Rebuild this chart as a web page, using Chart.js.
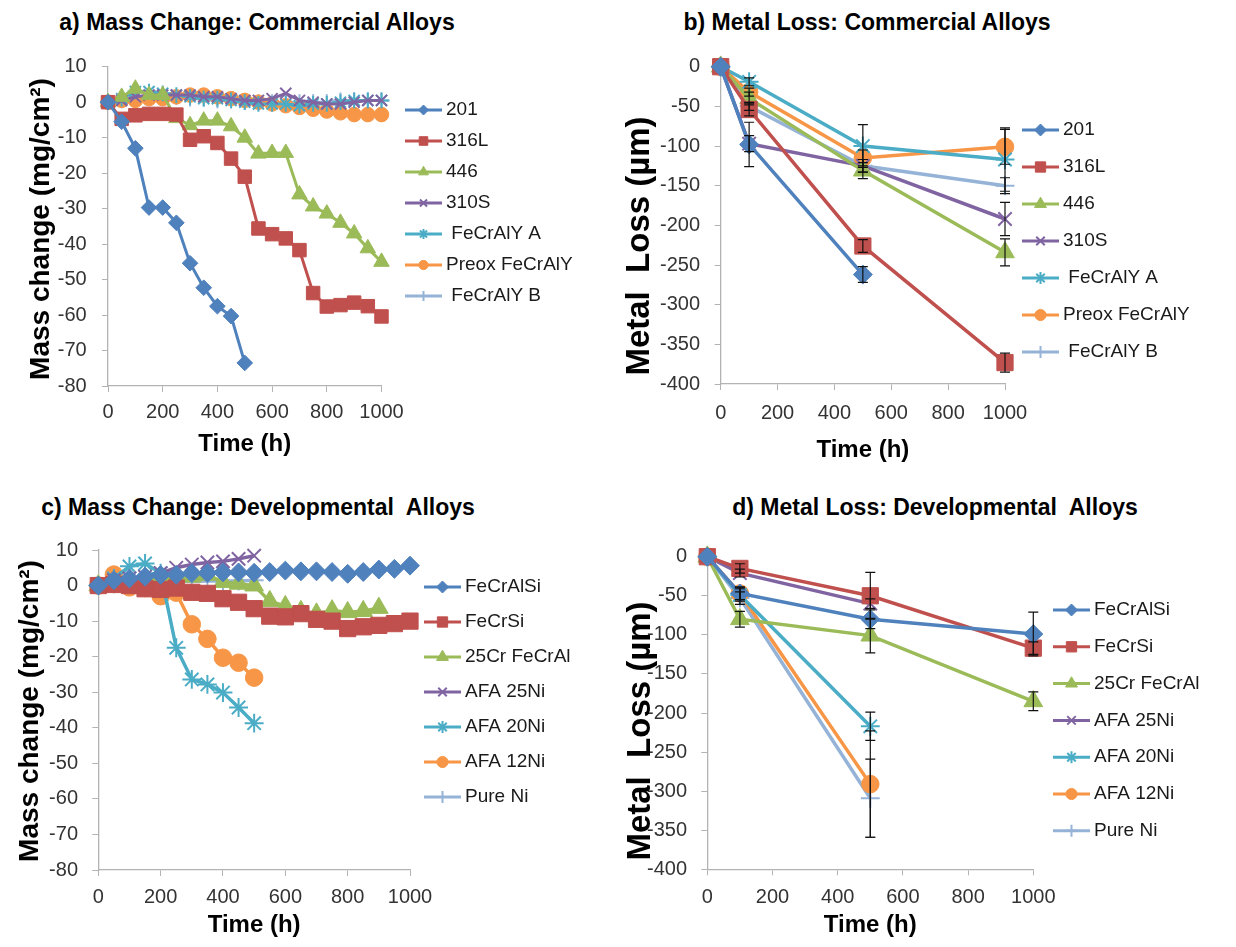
<!DOCTYPE html>
<html>
<head>
<meta charset="utf-8">
<script src="https://cdn.jsdelivr.net/npm/chart.js@4.4.0/dist/chart.umd.min.js"></script>
<style>
  body { margin: 0; background: #fff; width: 1236px; height: 947px; position: relative; overflow: hidden;
         font-family: Arial, "Liberation Sans", sans-serif; }
  canvas { position: absolute; }
  .title { position: absolute; font-weight: bold; font-size: 23px; line-height: 1; white-space: pre;
           transform: translateX(-50%); color: #000; }
</style>
</head>
<body>
<div class="title" style="left:257px; top:11px">a) Mass Change: Commercial Alloys</div>
<div class="title" style="left:867px; top:11px">b) Metal Loss: Commercial Alloys</div>
<div class="title" style="left:258px; top:496px">c) Mass Change: Developmental  Alloys</div>
<div class="title" style="left:935px; top:496px">d) Metal Loss: Developmental  Alloys</div>

<canvas id="chartA" width="618" height="470" style="left:0; top:0"></canvas>
<canvas id="chartB" width="618" height="470" style="left:618px; top:0"></canvas>
<canvas id="chartC" width="618" height="477" style="left:0; top:470px"></canvas>
<canvas id="chartD" width="618" height="477" style="left:618px; top:470px"></canvas>

<script>
// ---- data: a) mass change, commercial alloys (mg/cm2) ----
const timesMass = [0, 50, 100, 150, 200, 250, 300, 350, 400, 450, 500,
                   550, 600, 650, 700, 750, 800, 850, 900, 950, 1000];
const commercialNames = ['201', '316L', '446', '310S', ' FeCrAlY A', 'Preox FeCrAlY', ' FeCrAlY B'];
const mass201   = [0, -5.5, -13, -29.7, -29.7, -34, -45.4, -52.3, -57.5, -60.3, -73.5];
const mass316L  = [0, -4.7, -3.7, -3.3, -3.3, -3.5, -10.6, -9.6, -11.5, -15.9, -21,
                   -35.6, -37.2, -38.4, -41.7, -53.8, -57.6, -57.2, -56.5, -57.5, -60.4];
const mass446   = [0, 1.5, 3.8, 2, 2, -4.5, -6.5, -5.2, -5.2, -6.8, -10,
                   -14.5, -14.3, -14.3, -26, -29.4, -31.4, -34, -37, -41.2, -45];
const mass310S  = [0, 0.5, 1.5, 2, 2, 2, 2, 1.5, 1.5, 1, 0.5,
                   0.5, 1, 2.5, 0.5, 0, -0.5, -0.5, 0, 0.5, 0.5];
const massFeCrAlYA = [0, 1, 3, 3, 2.5, 2, 1.5, 1, 1, 0.5, 0,
                      -0.5, -0.5, -0.5, -1, -0.5, -0.5, 0, 0.5, 0.5, 0.5];
const massPreox = [0, 0.5, 0.5, 1, 1, 1.5, 2, 2, 1.5, 1, 0.5,
                   0, -0.5, -1, -1.5, -2, -2.5, -3, -3.5, -3.5, -3.5];
const massFeCrAlYB = [0, 0.5, 1, 1.5, 1.5, 1.5, 1, 1, 0.5, 0.5, 0,
                      0, 0, 0, 0, 0, 0, 0.5, 0.5, 0.5, 0.5];

// ---- data: b) metal loss, commercial alloys (um) ----
const timesLoss = [0, 100, 500, 1000];
const loss201   = [0, -98, -262];
const err201    = [0, 28, 10];
const loss316L  = [0, -54, -226, -373];
const err316L   = [0, 8, 8, 12];
const loss446   = [0, -40, -131, -234];
const err446    = [0, 8, 10, 17];
const loss310S  = [0, -97, -125, -192];
const err310S   = [0, 10, 8, 21];
const lossFeCrAlYA = [0, -19, -100, -117];
const errFeCrAlYA  = [0, 5, 27, 40];
const lossPreox = [0, -32, -115, -101];
const errPreox  = [0, 5, 10, 22];
const lossFeCrAlYB = [0, -50, -125, -150];
const errFeCrAlYB  = [0, 5, 8, 10];

// ---- data: c) mass change, developmental alloys (mg/cm2) ----
const devNames = ['FeCrAlSi', 'FeCrSi', '25Cr FeCrAl', 'AFA 25Ni', 'AFA 20Ni', 'AFA 12Ni', 'Pure Ni'];
const massFeCrAlSi = [0, 1.5, 2, 2.5, 3, 3, 3.5, 3.5, 3.7, 3.7, 3.6,
                      3.8, 4.2, 4, 4, 3.8, 3.3, 3.8, 4.5, 4.7, 5.6];
const massFeCrSi   = [0, 0.3, 0, -0.9, -1.1, -0.7, -1.9, -2.2, -3.7, -4.7, -6.5,
                      -8.6, -8.8, -7.9, -9.5, -10, -12.1, -11.6, -11.2, -10.7, -10];
const mass25Cr     = [0, 0.5, 1, 1.5, 2, 2.5, 2.5, 3, 1, 0.5, 0,
                      -4.4, -5.8, -7.2, -7.9, -7, -7.5, -7.2, -6.3];
const massAFA25Ni  = [0, 1.5, 2, 2.5, 3.5, 5, 5.9, 6.5, 6.8, 7.5, 8.4];
const massAFA20Ni  = [0, 2, 5.4, 6.2, 3.5, -17.5, -26.4, -27.8, -30.1, -34.3, -38.7];
const massAFA12Ni  = [0, 3.1, -0.5, -0.7, -3, -2, -10.9, -15, -20.3, -21.7, -25.9];
const massPureNi   = [0, 0.5, 1, 1, 1.2, 1.2, 1.2, 1.3, 1.3, 1.3, 1.5];

// ---- data: d) metal loss, developmental alloys (um) ----
const lossFeCrAlSi = [0, -47, -80, -99];
const errFeCrAlSi  = [0, 8, 12, 28];
const lossFeCrSi   = [0, -15, -50, -117];
const errFeCrSi    = [0, 6, 30, 8];
const loss25Cr     = [0, -80, -101, -185];
const err25Cr      = [0, 10, 22, 12];
const lossAFA25Ni  = [0, -21, -60];
const errAFA25Ni   = [0, 5, 6];
const lossAFA20Ni  = [0, -49, -217];
const errAFA20Ni   = [0, 8, 18];
const lossAFA12Ni  = [0, -47, -291];
const errAFA12Ni   = [0, 8, 68];
const lossPureNi   = [0, -53, -309];
const errPureNi    = [0, 8, 50];

// ---- styling ----
const colors  = ['#4F81BD', '#C0504D', '#9BBB59', '#8064A2', '#4BACC6', '#F79646', '#95B3D7'];
const markers = ['rectRot', 'rect', 'triangle', 'crossRot', 'star', 'circle', 'cross'];
const markerR = [7, 8.5, 8, 7, 7, 6.5, 7];
const axisColor = '#b3b3b3';
const fontFamily = 'Arial, "Liberation Sans", sans-serif';
Chart.defaults.font.family = fontFamily;

function makeSeries(names, times, valueLists, errorLists, scale, lineW) {
  return valueLists.map((vals, i) => {
    const hollow = ['crossRot', 'star', 'cross'].includes(markers[i]);
    return {
      label: names[i],
      data: vals.map((v, k) => ({ x: times[k], y: v })),
      errors: errorLists ? errorLists[i] : null,
      borderColor: colors[i],
      backgroundColor: colors[i],
      pointBackgroundColor: colors[i],
      pointBorderColor: colors[i],
      pointStyle: markers[i],
      pointRadius: markerR[i] * scale,
      pointHoverRadius: markerR[i] * scale,
      pointBorderWidth: hollow ? 2 : 1,
      borderWidth: lineW,
      tension: 0,
      clip: false
    };
  });
}

// error bars drawn through the chart scales
const errorBars = {
  id: 'errorBars',
  afterDatasetsDraw(chart) {
    const { ctx } = chart;
    const x = chart.scales.x, y = chart.scales.y;
    ctx.save();
    ctx.strokeStyle = '#111';
    ctx.lineWidth = 1.2;
    chart.data.datasets.forEach(ds => {
      if (!ds.errors) return;
      ds.data.forEach((p, i) => {
        const e = ds.errors[i];
        if (!e) return;
        const px = x.getPixelForValue(p.x);
        const y1 = y.getPixelForValue(p.y + e);
        const y2 = y.getPixelForValue(p.y - e);
        ctx.beginPath();
        ctx.moveTo(px, y1); ctx.lineTo(px, y2);
        ctx.moveTo(px - 5, y1); ctx.lineTo(px + 5, y1);
        ctx.moveTo(px - 5, y2); ctx.lineTo(px + 5, y2);
        ctx.stroke();
      });
    });
    ctx.restore();
  }
};

// Excel-like legend: short line with marker, then the name
const sideLegend = {
  id: 'sideLegend',
  afterDraw(chart, args, opts) {
    const ctx = chart.ctx;
    ctx.save();
    ctx.font = opts.size + 'px ' + fontFamily;
    ctx.textBaseline = 'middle';
    chart.data.datasets.forEach((ds, i) => {
      const y = opts.y + i * opts.gap;
      ctx.strokeStyle = ds.borderColor;
      ctx.lineWidth = 3;
      ctx.beginPath();
      ctx.moveTo(opts.x, y);
      ctx.lineTo(opts.x + opts.len, y);
      ctx.stroke();
      ctx.fillStyle = ds.pointBackgroundColor;
      ctx.lineWidth = ds.pointBorderWidth;
      Chart.helpers.drawPoint(ctx, { pointStyle: ds.pointStyle, radius: opts.r * markerR[i] / 7,
                                     borderWidth: ds.pointBorderWidth, rotation: 0 },
                              opts.x + opts.len / 2, y);
      ctx.fillStyle = '#1a1a1a';
      ctx.fillText(ds.label, opts.x + opts.len + 4, y);
    });
    ctx.restore();
  }
};

// vertical axis title, placed by hand like the Excel original
const yTitle = {
  id: 'yTitle',
  afterDraw(chart, args, opts) {
    const ctx = chart.ctx;
    ctx.save();
    ctx.translate(opts.x, opts.y);
    ctx.rotate(-Math.PI / 2);
    ctx.font = 'bold ' + opts.size + 'px ' + fontFamily;
    ctx.fillStyle = '#000';
    ctx.textAlign = 'center';
    ctx.textBaseline = 'middle';
    ctx.fillText(opts.text, 0, 0);
    ctx.restore();
  }
};

function makeChart(id, datasets, g) {
  const lhX = g.xTitleSize * 1.2;
  const padLeft = 4;
  const yWidth = g.area.left - padLeft;
  const xHeight = g.xTitleY - g.area.bottom + lhX / 2;
  const canvas = document.getElementById(id);
  return new Chart(canvas, {
    type: 'line',
    data: { datasets },
    options: {
      responsive: false,
      animation: false,
      events: [],
      layout: {
        padding: {
          left: padLeft,
          top: g.area.top,
          right: canvas.width - g.area.right,
          bottom: canvas.height - g.area.bottom - xHeight
        }
      },
      scales: {
        x: {
          type: 'linear', min: 0, max: 1000,
          ticks: { stepSize: 200, color: '#333', font: { size: 20 }, autoSkip: false,
                   maxRotation: 0, minRotation: 0, callback: v => String(v),
                   padding: g.xLabelY - g.area.bottom - 6 - 12 },
          grid: { display: true, drawOnChartArea: false, drawTicks: true, tickLength: 6, color: axisColor },
          border: { color: axisColor, width: 1.3 },
          title: { display: true, text: 'Time (h)', color: '#000', padding: 0,
                   font: { size: g.xTitleSize, weight: 'bold' } },
          afterFit(s) { s.height = xHeight; }
        },
        y: {
          type: 'linear', min: g.yMin, max: g.yMax,
          ticks: { stepSize: g.yStep, color: '#333', font: { size: 20 }, callback: v => String(v),
                   padding: g.area.left - g.yLabelRight - 6 },
          grid: { display: true, drawOnChartArea: false, drawTicks: true, tickLength: 6, color: axisColor },
          border: { color: axisColor, width: 1.3 },
          afterFit(s) { s.width = yWidth; }
        }
      },
      plugins: {
        legend: { display: false },
        tooltip: { enabled: false },
        sideLegend: g.legend,
        yTitle: g.yTitle
      }
    },
    plugins: [errorBars, sideLegend, yTitle]
  });
}

makeChart('chartA',
  makeSeries(commercialNames, timesMass,
    [mass201, mass316L, mass446, mass310S, massFeCrAlYA, massPreox, massFeCrAlYB], null, 1.12, 3),
  { area: { left: 108, right: 381.5, top: 66.7, bottom: 386 },
    yMin: -80, yMax: 10, yStep: 10, yLabelRight: 86.7, xTitleSize: 24, xTitleY: 444, xLabelY: 412,
    yTitle: { text: 'Mass change (mg/cm²)', x: 41, y: 229, size: 28 },
    legend: { x: 405, y: 110, gap: 31, len: 37, size: 19, r: 5 } });

makeChart('chartB',
  makeSeries(commercialNames, timesLoss,
    [loss201, loss316L, loss446, loss310S, lossFeCrAlYA, lossPreox, lossFeCrAlYB],
    [err201, err316L, err446, err310S, errFeCrAlYA, errPreox, errFeCrAlYB], 1.35, 3.5),
  { area: { left: 102.7, right: 387, top: 66.7, bottom: 384 },
    yMin: -400, yMax: 0, yStep: 50, yLabelRight: 82, xTitleSize: 24, xTitleY: 450, xLabelY: 413.3,
    yTitle: { text: 'Metal  Loss (µm)', x: 22, y: 246, size: 33 },
    legend: { x: 404, y: 130, gap: 37, len: 37, size: 19, r: 6 } });

makeChart('chartC',
  makeSeries(devNames, timesMass,
    [massFeCrAlSi, massFeCrSi, mass25Cr, massAFA25Ni, massAFA20Ni, massAFA12Ni, massPureNi], null, 1.35, 3.5),
  { area: { left: 98.3, right: 410, top: 80, bottom: 400 },
    yMin: -80, yMax: 10, yStep: 10, yLabelRight: 78, xTitleSize: 24, xTitleY: 455, xLabelY: 427,
    yTitle: { text: 'Mass change (mg/cm²)', x: 30, y: 241, size: 28 },
    legend: { x: 424, y: 117, gap: 35, len: 37, size: 19, r: 6 } });

makeChart('chartD',
  makeSeries(devNames, timesLoss,
    [lossFeCrAlSi, lossFeCrSi, loss25Cr, lossAFA25Ni, lossAFA20Ni, lossAFA12Ni, lossPureNi],
    [errFeCrAlSi, errFeCrSi, err25Cr, errAFA25Ni, errAFA20Ni, errAFA12Ni, errPureNi], 1.35, 3.5),
  { area: { left: 89.3, right: 415.3, top: 86.7, bottom: 399.3 },
    yMin: -400, yMax: 0, yStep: 50, yLabelRight: 69, xTitleSize: 24, xTitleY: 455, xLabelY: 427,
    yTitle: { text: 'Metal  Loss (µm)', x: 23, y: 261, size: 33 },
    legend: { x: 435, y: 140, gap: 36.8, len: 37, size: 19, r: 6 } });
</script>
</body>
</html>
